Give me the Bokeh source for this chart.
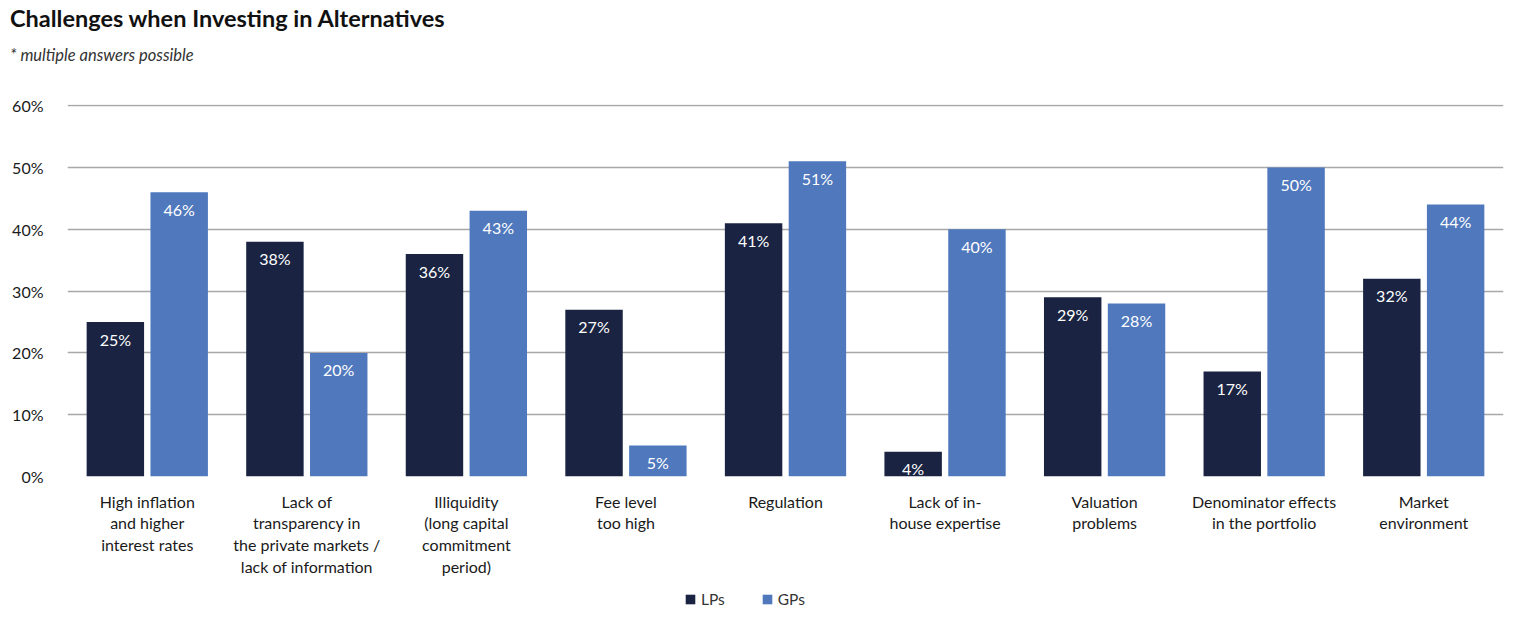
from bokeh.plotting import figure
from bokeh.layouts import column
from bokeh.models import (FactorRange, ColumnDataSource, Legend, LegendItem,
                          FixedTicker, Range1d, Div)
from bokeh.transform import dodge
from bokeh.core.properties import value
from bokeh.embed import file_html
from bokeh.resources import INLINE

FONT = "Lato"

categories = [
    "High inflation\nand higher\ninterest rates",
    "Lack of\ntransparency in\nthe private markets /\nlack of information",
    "Illiquidity\n(long capital\ncommitment\nperiod)",
    "Fee level\ntoo high",
    "Regulation",
    "Lack of in-\nhouse expertise",
    "Valuation\nproblems",
    "Denominator effects\nin the portfolio",
    "Market\nenvironment",
]
lps = [25, 38, 36, 27, 41, 4, 29, 17, 32]
gps = [46, 20, 43, 5, 51, 40, 28, 50, 44]
y_ticks = [0, 10, 20, 30, 40, 50, 60]
y_tick_labels = ["0%", "10%", "20%", "30%", "40%", "50%", "60%"]
series_names = ["LPs", "GPs"]
title_text = "Challenges when Investing in Alternatives"
subtitle_text = "* multiple answers possible"

LP_COLOR = "#1a2442"
GP_COLOR = "#4f78bd"
W = 1533
H_HEAD, H_MAIN, H_LEG = 88, 491, 41

src = ColumnDataSource(dict(
    cat=categories, lp=lps, gp=gps,
    lp_lbl=[f"{v}%" for v in lps], gp_lbl=[f"{v}%" for v in gps],
))

# ---- header (title + subtitle) ----
head_html = (
    f'<div style="position:relative;width:{W}px;height:{H_HEAD}px;font-family:Lato;">'
    f'<div style="position:absolute;left:10px;top:6px;font-size:23.5px;line-height:24px;'
    f'font-weight:bold;color:#111111;white-space:nowrap;">{title_text}</div>'
    f'<div style="position:absolute;left:10px;top:46px;font-size:16.5px;line-height:18px;'
    f'font-style:italic;color:#333333;white-space:nowrap;">{subtitle_text}</div>'
    f'</div>'
)
head = Div(text=head_html, width=W, height=H_HEAD, margin=(0, 0, 0, 0))

# ---- main chart ----
p = figure(
    width=W, height=H_MAIN,
    x_range=FactorRange(factors=categories, range_padding=0),
    y_range=(0, 60.2),
    output_backend="svg", toolbar_location=None,
    min_border_left=67, min_border_right=30, min_border_top=16, min_border_bottom=0,
)
p.outline_line_color = None
p.background_fill_color = "white"
p.border_fill_color = "white"

r1 = p.vbar(x=dodge("cat", -0.2, range=p.x_range), top="lp", width=0.36,
            source=src, fill_color=LP_COLOR, line_color=None)
r2 = p.vbar(x=dodge("cat", 0.2, range=p.x_range), top="gp", width=0.36,
            source=src, fill_color=GP_COLOR, line_color=None)

for col, off in (("lp", -0.2), ("gp", 0.2)):
    p.text(x=dodge("cat", off, range=p.x_range), y=col, text=col + "_lbl", source=src,
           text_align="center", text_baseline="middle", y_offset=17,
           text_color="white", text_font_size="16px", text_font=value(FONT))

p.xgrid.grid_line_color = None
p.ygrid.grid_line_color = "#a8a8a8"
p.ygrid.grid_line_width = 1.3

p.yaxis.ticker = FixedTicker(ticks=y_ticks)
p.yaxis.major_label_overrides = {t: l for t, l in zip(y_ticks, y_tick_labels)}
for ax in (p.xaxis[0], p.yaxis[0]):
    ax.axis_line_color = None
    ax.major_tick_line_color = None
    ax.minor_tick_line_color = None
    ax.major_tick_out = 0
    ax.major_tick_in = 0
    ax.major_label_text_font = FONT
    ax.major_label_text_font_size = "16px"
    ax.major_label_text_color = "#1a1a1a"
p.yaxis.major_label_standoff = 24
p.xaxis.major_label_standoff = 15
p.xaxis.major_label_text_line_height = 1.15

# ---- legend strip ----
leg = figure(width=W, height=H_LEG, x_range=p.x_range, y_range=Range1d(1000, 1001),
             x_axis_location=None, y_axis_location=None,
             output_backend="svg", toolbar_location=None,
             min_border_left=67, min_border_right=30, min_border_top=0, min_border_bottom=0)
leg.outline_line_color = None
leg.grid.visible = False
l1 = leg.vbar(x=dodge("cat", -0.2, range=leg.x_range), top="lp", width=0.36,
              source=src, fill_color=LP_COLOR, line_color=None)
l2 = leg.vbar(x=dodge("cat", 0.2, range=leg.x_range), top="gp", width=0.36,
              source=src, fill_color=GP_COLOR, line_color=None)
legend = Legend(items=[LegendItem(label=series_names[0], renderers=[l1]),
                       LegendItem(label=series_names[1], renderers=[l2])],
                orientation="horizontal", location=(617, 12),
                glyph_width=12, glyph_height=12, label_standoff=5, spacing=36, label_height=16,
                label_text_font=FONT, label_text_font_size="15.5px", label_text_color="#333333",
                border_line_color=None, background_fill_alpha=0, padding=0, margin=0)
leg.add_layout(legend, "center")

open("out.html", "w").write(file_html(column(head, p, leg, spacing=0), INLINE))
